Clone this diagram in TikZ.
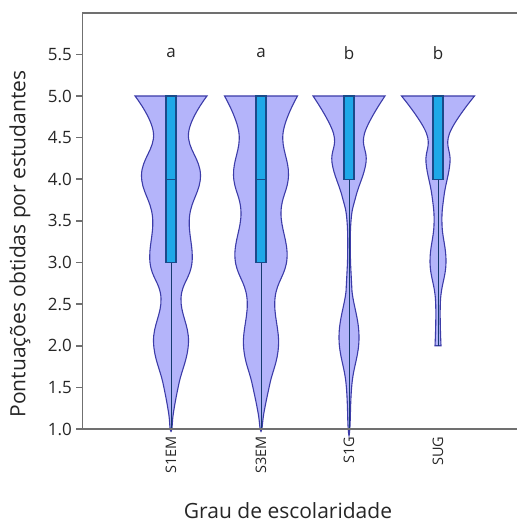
\documentclass[tikz,border=0pt]{standalone}
\usepackage{fontspec}
\setmainfont{Open Sans}
\usepackage{tikz}

\definecolor{violinfill}{HTML}{B4B4FA}
\definecolor{violinline}{HTML}{3C3CA8}
\definecolor{boxfill}{HTML}{1EA8E8}
\definecolor{boxline}{HTML}{1A4A8A}
\definecolor{axisgray}{HTML}{707070}

\tikzset{
	violin/.style={fill=violinfill, draw=violinline, line width=1.1pt},
	boxst/.style={fill=boxfill, draw=boxline, line width=1.2pt},
	whisk/.style={draw=boxline!80!black, line width=0.9pt},
	axisline/.style={draw=axisgray, line width=1.6pt},
	lbl/.style={font=\fontsize{17}{20}\selectfont, text=black!85},
	catlbl/.style={font=\fontsize{14.5}{17}\selectfont, text=black!85, rotate=90, anchor=east},
	titlelbl/.style={font=\fontsize{21}{25}\selectfont, text=black!85}
}

\begin{document}
\begin{tikzpicture}[x=1pt, y=1pt]
	\useasboundingbox (0,0) rectangle (517,526);

	\begin{scope}[y=83.25pt, yshift=13.75pt]
	% S1EM
	\begin{scope}[xshift=171pt]
		\filldraw[violin] plot[smooth, tension=0.7] coordinates {(-36,5) (-17.5,4.55) (-29.5,4.05) (-18.5,3.55) (-21,3.0) (-10,2.57) (-17.5,2.05) (-8,1.55) (-2.5,1.2) (-0.8,1.0) (0.8,1.0) (2.5,1.2) (8,1.55) (17.5,2.05) (10,2.57) (21,3.0) (18.5,3.55) (29.5,4.05) (17.5,4.55) (36,5)} -- cycle;
		\draw[whisk] (0,1) -- (0,3);
		\filldraw[boxst] (-5,3) rectangle (5,5);
		\draw[boxst] (-5,4) -- (5,4);
	\end{scope}
	% S3EM
	\begin{scope}[xshift=261pt]
		\filldraw[violin] plot[smooth, tension=0.7] coordinates {(-36.5,5) (-22,4.55) (-27.5,4.05) (-20,3.6) (-26,3.05) (-14,2.57) (-17.5,2.0) (-9,1.55) (-3,1.2) (-0.8,1.0) (0.8,1.0) (3,1.2) (9,1.55) (17.5,2.0) (14,2.57) (26,3.05) (20,3.6) (27.5,4.05) (22,4.55) (36.5,5)} -- cycle;
		\draw[whisk] (0,1) -- (0,3);
		\filldraw[boxst] (-5,3) rectangle (5,5);
		\draw[boxst] (-5,4) -- (5,4);
	\end{scope}
	% S1G
	\begin{scope}[xshift=349pt]
		\filldraw[violin] plot[smooth, tension=0.7] coordinates {(-36,5) (-15.5,4.55) (-17,4.2) (-7,3.8) (-2,3.5) (-1.5,3.0) (-3,2.65) (-10,2.1) (-3,1.55) (-0.8,1.0) (0.8,1.0) (3,1.55) (10,2.1) (3,2.65) (1.5,3.0) (2,3.5) (7,3.8) (17,4.2) (15.5,4.55) (36,5)} -- cycle;
		\draw[whisk] (0,1) -- (0,4);
		\filldraw[boxst] (-5,4) rectangle (5,5);
	\end{scope}
	% SUG
	\begin{scope}[xshift=438pt]
		\filldraw[violin] plot[smooth, tension=0.7] coordinates {(-36.5,5) (-11.5,4.55) (-12,4.2) (-6,3.8) (-4,3.45) (-8,3.0) (-2.5,2.55) (-3,2.0)} -- plot[smooth, tension=0.7] coordinates {(3,2.0) (2.5,2.55) (8,3.0) (4,3.45) (6,3.8) (12,4.2) (11.5,4.55) (36.5,5)} -- cycle;
		\draw[whisk] (0,2) -- (0,4);
		\filldraw[boxst] (-5,4) rectangle (5,5);
	\end{scope}

	% axes
	\draw[axisline] (82.5,1) -- (82.5,6) -- (517,6);
	\draw[axisline] (82.5,1) -- (517,1);
	\foreach \v/\t in {1/1.0, 1.5/1.5, 2/2.0, 2.5/2.5, 3/3.0, 3.5/3.5, 4/4.0, 4.5/4.5, 5/5.0, 5.5/5.5}
		\draw[axisline] (76,\v) -- (82.5,\v) node[lbl, left=0pt, pos=0] (t\t) {\t};

	\node[lbl] (g1) at (171,5.52) {a};
	\node[lbl] (g2) at (261,5.52) {a};
	\node[lbl] (g3) at (349,5.52) {b};
	\node[lbl] (g4) at (438,5.52) {b};
	\end{scope}

	\node[catlbl] (c1) at (171,93) {S1EM};
	\node[catlbl] (c2) at (261,93) {S3EM};
	\node[catlbl] (c3) at (349,93) {S1G};
	\node[catlbl] (c4) at (438,93) {SUG};

	\node[titlelbl, rotate=90] (ylab) at (20,282) {Pontuações obtidas por estudantes};
	\node[titlelbl] (xlab) at (288,15) {Grau de escolaridade};
\end{tikzpicture}
\end{document}
